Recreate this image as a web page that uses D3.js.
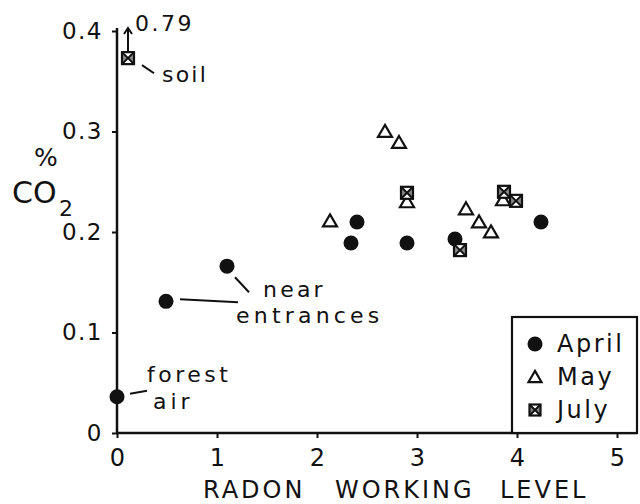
<!DOCTYPE html>
<html>
<head>
<meta charset="utf-8">
<script src="https://cdn.jsdelivr.net/npm/d3@7"></script>
<style>
  body { margin: 0; background: #fff; }
  text { font-family: 'DejaVu Sans', sans-serif; fill: #111; }
</style>
</head>
<body>
<div id="chart"></div>
<script>
'use strict';

// data
const april_x = [0.0, 0.49, 1.10, 2.34, 2.40, 2.90, 3.38, 4.24]
const april_y = [0.036, 0.131, 0.166, 0.189, 0.210, 0.189, 0.193, 0.210]
const may_x = [2.13, 2.68, 2.82, 2.90, 3.49, 3.62, 3.74, 3.86]
const may_y = [0.211, 0.300, 0.289, 0.230, 0.223, 0.210, 0.200, 0.232]
const july_x = [0.11, 2.90, 3.43, 3.87, 3.99]
const july_y = [0.373, 0.239, 0.182, 0.240, 0.231]
const x_ticks = [0, 1, 2, 3, 4, 5]
const y_ticks = [0, 0.1, 0.2, 0.3, 0.4]
const y_tick_labels = ['0', '0.1', '0.2', '0.3', '0.4']
const legend_labels = ['April', 'May', 'July']

const dimensions = {
  width: 640,
  height: 504,
  margin: { top: 31, bottom: 71, left: 117, right: 23 }
}
dimensions.ctrWidth = dimensions.width - dimensions.margin.left - dimensions.margin.right
dimensions.ctrHeight = dimensions.height - dimensions.margin.top - dimensions.margin.bottom

const svg_el = d3.select('#chart')
.append('svg')
.attr('width', dimensions.width)
.attr('height', dimensions.height)

const chart_g = svg_el.append('g')
.attr('transform', `translate(${dimensions.margin.left}, ${dimensions.margin.top})`)

const x_scale = d3.scaleLinear()
.domain([0, 5])
.range([0, dimensions.ctrWidth])

const y_scale = d3.scaleLinear()
.domain([0, 0.4])
.range([dimensions.ctrHeight, 0])

// axes
const xAxis = d3.axisBottom(x_scale)
.tickValues(x_ticks)
.tickSizeInner(5)
.tickSizeOuter(0)
.tickPadding(11)
.tickFormat(d3.format('d'))

const xAxisGroup = chart_g.append('g')
.attr('transform', `translate(0, ${dimensions.ctrHeight})`)
.call(xAxis)

xAxisGroup.select('.domain').remove()
xAxisGroup.selectAll('line').attr('stroke', '#111').attr('stroke-width', 2)
xAxisGroup.selectAll('text')
.style('font-size', '24px')
.style('font-family', "'DejaVu Sans', sans-serif")
.attr('fill', '#111')

const yAxis = d3.axisLeft(y_scale)
.tickValues(y_ticks)
.tickSizeInner(5)
.tickSizeOuter(0)
.tickPadding(9)
.tickFormat((d, i) => y_tick_labels[i])

const yAxisGroup = chart_g.append('g')
.call(yAxis)

yAxisGroup.select('.domain').remove()
yAxisGroup.selectAll('line').attr('stroke', '#111').attr('stroke-width', 2)
yAxisGroup.selectAll('text')
.style('font-size', '23px')
.style('font-family', "'DejaVu Sans', sans-serif")
.style('letter-spacing', '1.5px')
.attr('fill', '#111')

// axis lines
chart_g.append('line')
.attr('x1', x_scale(0)).attr('x2', x_scale(5.2))
.attr('y1', y_scale(0)).attr('y2', y_scale(0))
.attr('stroke', '#111').attr('stroke-width', 2.5)

chart_g.append('line')
.attr('x1', x_scale(0)).attr('x2', x_scale(0))
.attr('y1', y_scale(0)).attr('y2', y_scale(0.403))
.attr('stroke', '#111').attr('stroke-width', 2.5)

// axis titles
const x_title = svg_el.append('g')
.style('font-size', '24px')
.style('letter-spacing', '3px')
const x_words = [['RADON', 203], ['WORKING', 335], ['LEVEL', 500]]
x_title.selectAll('text')
.data(x_words)
.join('text')
.attr('x', d => d[1])
.attr('y', 498)
.text(d => d[0])

svg_el.append('text')
.attr('x', 46)
.attr('y', 166)
.attr('text-anchor', 'middle')
.style('font-size', '25px')
.text('%')

svg_el.append('text')
.attr('x', 12)
.attr('y', 203)
.style('font-size', '30px')
.text('CO')

svg_el.append('text')
.attr('x', 59)
.attr('y', 216)
.style('font-size', '22px')
.text('2')

// markers
const april = april_x.map((x, i) => ({ x: x, y: april_y[i] }))
const may = may_x.map((x, i) => ({ x: x, y: may_y[i] }))
const july = july_x.map((x, i) => ({ x: x, y: july_y[i] }))

const draw_triangle = function(g, s){
  const h = s * 0.86
  g.append('path')
  .attr('d', `M0,${-h * 0.55} L${s / 2},${h * 0.45} L${-s / 2},${h * 0.45} Z`)
  .attr('fill', '#fff')
  .attr('stroke', '#111')
  .attr('stroke-width', 2.2)
  .attr('stroke-linejoin', 'miter')
}

const draw_square = function(g, s){
  const h = s / 2
  g.append('rect')
  .attr('x', -h).attr('y', -h)
  .attr('width', s).attr('height', s)
  .attr('fill', '#fff')
  .attr('stroke', '#111')
  .attr('stroke-width', 2.2)
  g.append('path')
  .attr('d', `M${-h},${-h} L${h},${h} M${h},${-h} L${-h},${h}`)
  .attr('stroke', '#111')
  .attr('stroke-width', 2)
  g.append('path')
  .attr('d', `M${-h},${-h} L0,0 L${-h},${h} Z M${h},${-h} L0,0 L${h},${h} Z`)
  .attr('fill', '#111')
  .attr('opacity', 0.5)
}

chart_g.append('g')
.selectAll('circle')
.data(april)
.join('circle')
.attr('cx', d => x_scale(d.x))
.attr('cy', d => y_scale(d.y))
.attr('r', 7.5)
.attr('fill', '#111')

chart_g.append('g')
.selectAll('g')
.data(may)
.join('g')
.attr('transform', d => `translate(${x_scale(d.x)},${y_scale(d.y)})`)
.each(function(){ draw_triangle(d3.select(this), 14) })

chart_g.append('g')
.selectAll('g')
.data(july)
.join('g')
.attr('transform', d => `translate(${x_scale(d.x)},${y_scale(d.y)})`)
.each(function(){ draw_square(d3.select(this), 12) })

// annotations
const ann_g = chart_g.append('g')
.style('font-size', '22px')

const notes = [
  { t: '0.79', x: 0.18, y: 0.400, ls: 2.5 },
  { t: 'soil', x: 0.45, y: 0.349, ls: 2.2 },
  { t: 'near', x: 1.46, y: 0.135, ls: 3.2 },
  { t: 'entrances', x: 1.19, y: 0.109, ls: 4.2 },
  { t: 'forest', x: 0.30, y: 0.051, ls: 3.5 },
  { t: 'air', x: 0.36, y: 0.024, ls: 4 }
]
ann_g.selectAll('text')
.data(notes)
.join('text')
.attr('x', d => x_scale(d.x))
.attr('y', d => y_scale(d.y))
.style('letter-spacing', d => d.ls + 'px')
.text(d => d.t)

const leaders = [
  [0.25, 0.366, 0.37, 0.358],
  [1.18, 0.155, 1.32, 0.140],
  [0.63, 0.133, 1.21, 0.130],
  [0.13, 0.039, 0.30, 0.042]
]
chart_g.append('g')
.selectAll('line')
.data(leaders)
.join('line')
.attr('x1', d => x_scale(d[0]))
.attr('y1', d => y_scale(d[1]))
.attr('x2', d => x_scale(d[2]))
.attr('y2', d => y_scale(d[3]))
.attr('stroke', '#111')
.attr('stroke-width', 2)

// arrow for off-scale soil value
const ax = x_scale(july_x[0])
const ay0 = y_scale(july_y[0]) - 7
const ay1 = y_scale(0.403)
chart_g.append('path')
.attr('d', `M${ax},${ay0} L${ax},${ay1} M${ax - 4},${ay1 + 6} L${ax},${ay1} L${ax + 4},${ay1 + 6}`)
.attr('fill', 'none')
.attr('stroke', '#111')
.attr('stroke-width', 2)

// legend
const legend_g = svg_el.append('g')
legend_g.append('rect')
.attr('x', 512).attr('y', 317)
.attr('width', 125).attr('height', 116)
.attr('fill', '#fff')
.attr('stroke', '#111')
.attr('stroke-width', 2.2)

const legend_rows = legend_g.selectAll('g')
.data(legend_labels)
.join('g')
.attr('transform', (d, i) => `translate(535, ${344 + i * 33})`)

legend_rows.each(function(d, i){
  const g = d3.select(this)
  if(i === 0){
    g.append('circle').attr('r', 7.5).attr('fill', '#111')
  }else if(i === 1){
    draw_triangle(g, 13)
  }else {
    draw_square(g, 11)
  }
})

legend_rows.append('text')
.attr('x', 22)
.attr('y', 8)
.style('font-size', '24px')
.style('letter-spacing', '2.5px')
.text(d => d)
</script>
</body>
</html>
